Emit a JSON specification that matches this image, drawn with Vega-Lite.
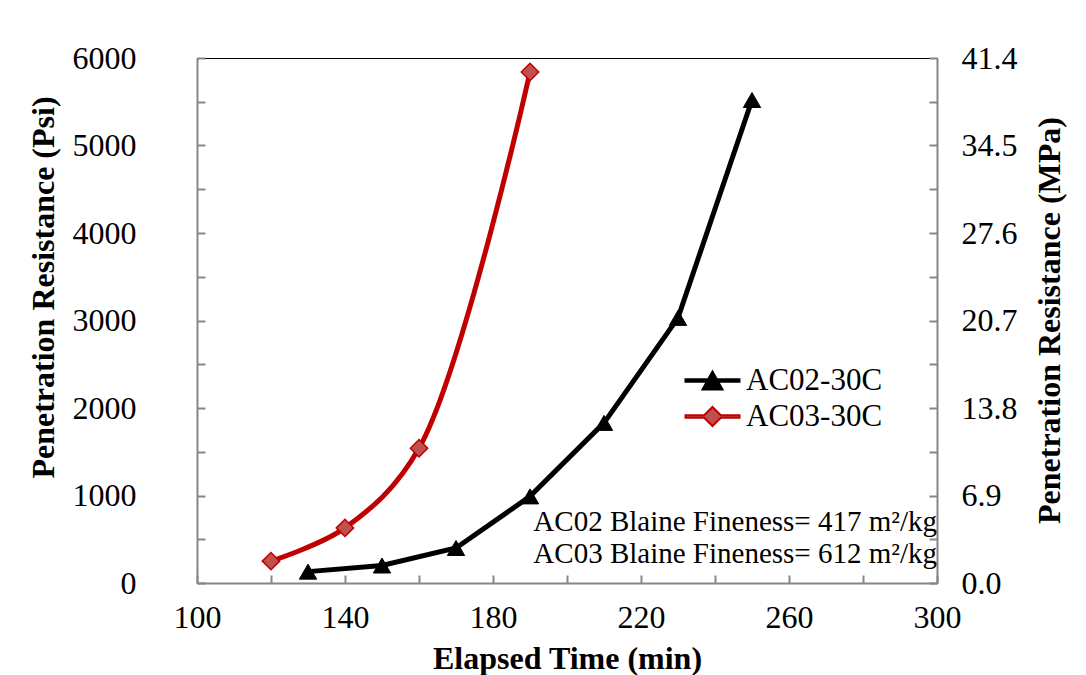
{
  "$schema": "https://vega.github.io/schema/vega-lite/v6.json",
  "width": 740,
  "height": 525,
  "autosize": {"type": "none"},
  "padding": {"left": 197, "top": 58, "right": 149, "bottom": 92},
  "background": "white",
  "config": {
    "font": "Liberation Serif",
    "view": {"stroke": "black", "strokeWidth": 1},
    "axis": {
      "grid": false,
      "domainColor": "#868686",
      "domainWidth": 2,
      "tickColor": "#868686",
      "tickWidth": 2,
      "tickSize": -8,
      "labelFlush": false,
      "labelFont": "Liberation Serif",
      "labelFontSize": 32,
      "labelColor": "black",
      "titleFont": "Liberation Serif",
      "titleFontSize": 32,
      "titleFontWeight": "bold",
      "titleColor": "black"
    }
  },
  "data": {
    "values": [
      {"series": "AC02-30C", "time": 130, "psi": 130},
      {"series": "AC02-30C", "time": 150, "psi": 200},
      {"series": "AC02-30C", "time": 170, "psi": 400},
      {"series": "AC02-30C", "time": 190, "psi": 990},
      {"series": "AC02-30C", "time": 210, "psi": 1830},
      {"series": "AC02-30C", "time": 230, "psi": 3030},
      {"series": "AC02-30C", "time": 250, "psi": 5520},
      {"series": "AC03-30C", "time": 120, "psi": 250},
      {"series": "AC03-30C", "time": 140, "psi": 630},
      {"series": "AC03-30C", "time": 160, "psi": 1540},
      {"series": "AC03-30C", "time": 190, "psi": 5840}
    ]
  },
  "resolve": {"scale": {"y": "independent"}},
  "layer": [
    {
      "encoding": {
        "x": {
          "field": "time", "type": "quantitative",
          "scale": {"domain": [100, 300], "nice": false, "zero": false},
          "axis": {
            "values": [100, 120, 140, 160, 180, 200, 220, 240, 260, 280, 300],
            "labelExpr": "datum.value % 40 == 0 ? '' : datum.label",
            "labelPadding": 27,
            "title": "Elapsed Time (min)",
            "titleX": 370, "titleY": 75, "titleBaseline": "middle", "titleAnchor": null
          }
        },
        "y": {
          "field": "psi", "type": "quantitative",
          "scale": {"domain": [0, 6000], "nice": false},
          "axis": {
            "orient": "left",
            "values": [0, 500, 1000, 1500, 2000, 2500, 3000, 3500, 4000, 4500, 5000, 5500, 6000],
            "format": "d",
            "labelExpr": "datum.value % 1000 == 0 ? datum.label : ''",
            "labelPadding": 69,
            "title": "Penetration Resistance (Psi)",
            "titleAngle": -90,
            "titleX": -154, "titleY": 229, "titleBaseline": "middle", "titleAlign": "center"
          }
        }
      },
      "layer": [
        {
          "transform": [{"filter": "datum.series == 'AC02-30C'"}],
          "mark": {"type": "line", "color": "black", "strokeWidth": 5, "interpolate": "linear"}
        },
        {
          "transform": [{"filter": "datum.series == 'AC03-30C'"}],
          "mark": {"type": "line", "color": "#C00000", "strokeWidth": 5, "interpolate": "catmull-rom"}
        },
        {
          "transform": [{"filter": "datum.series == 'AC02-30C'"}],
          "mark": {"type": "point", "shape": "triangle-up", "filled": true, "fill": "black", "stroke": "black", "strokeWidth": 1, "size": 300, "opacity": 1}
        },
        {
          "transform": [{"filter": "datum.series == 'AC03-30C'"}],
          "mark": {"type": "point", "shape": "diamond", "filled": true, "fill": "#C0504D", "stroke": "#C00000", "strokeWidth": 1.5, "size": 300, "opacity": 1}
        },
        {
          "mark": {"type": "point", "filled": true, "opacity": 0, "strokeWidth": 2},
          "encoding": {
            "shape": {
              "field": "series", "type": "nominal",
              "scale": {"domain": ["AC02-30C", "AC03-30C"], "range": [
                "M-2.7,-0.12L-0.433,-0.12L0,-0.9L0.433,-0.12L2.7,-0.12L2.7,0.12L0.567,0.12L1,0.9L-1,0.9L-0.567,0.12L-2.7,0.12Z",
                "M-2.7,-0.12L-0.83,-0.12L0,-0.95L0.83,-0.12L2.7,-0.12L2.7,0.12L0.83,0.12L0,0.95L-0.83,0.12L-2.7,0.12Z"
              ]},
              "legend": {
                "title": null, "orient": "none", "legendX": 500, "legendY": 307,
                "padding": 0, "symbolSize": 400, "symbolOpacity": 1, "symbolStrokeWidth": 2,
                "labelFont": "Liberation Serif", "labelFontSize": 31, "labelColor": "black",
                "labelOffset": 18, "rowPadding": 4, "labelLimit": 400
              }
            },
            "fill": {
              "field": "series", "type": "nominal",
              "scale": {"domain": ["AC02-30C", "AC03-30C"], "range": ["black", "#C0504D"]},
              "legend": {"title": null}
            },
            "stroke": {
              "field": "series", "type": "nominal",
              "scale": {"domain": ["AC02-30C", "AC03-30C"], "range": ["black", "#C00000"]},
              "legend": {"title": null}
            }
          }
        },
        {
          "transform": [{"filter": "datum.series == 'AC02-30C' && datum.time == 250"}],
          "mark": {"type": "text", "text": "AC02 Blaine Fineness= 417 m²/kg", "align": "right", "baseline": "alphabetic", "font": "Liberation Serif", "fontSize": 29, "fill": "black"},
          "encoding": {"x": {"datum": 300}, "y": {"datum": 594}}
        },
        {
          "transform": [{"filter": "datum.series == 'AC02-30C' && datum.time == 250"}],
          "mark": {"type": "text", "text": "AC03 Blaine Fineness= 612 m²/kg", "align": "right", "baseline": "alphabetic", "font": "Liberation Serif", "fontSize": 29, "fill": "black"},
          "encoding": {"x": {"datum": 300}, "y": {"datum": 229}}
        }
      ]
    },
    {
      "mark": {"type": "point", "opacity": 0},
      "encoding": {
        "x": {"field": "time", "type": "quantitative", "scale": {"domain": [100, 300], "nice": false, "zero": false}},
        "y": {
          "field": "psi", "type": "quantitative",
          "scale": {"domain": [0, 6000], "nice": false},
          "axis": {
            "orient": "right",
            "values": [0, 500, 1000, 1500, 2000, 2500, 3000, 3500, 4000, 4500, 5000, 5500, 6000],
            "labelExpr": "datum.value % 1000 == 0 ? format(datum.value * 0.0069, '.1f') : ''",
            "labelPadding": 32,
            "title": "Penetration Resistance (MPa)",
            "titleAngle": -90,
            "titleX": 112, "titleY": 262, "titleBaseline": "middle", "titleAlign": "center"
          }
        }
      }
    }
  ]
}
